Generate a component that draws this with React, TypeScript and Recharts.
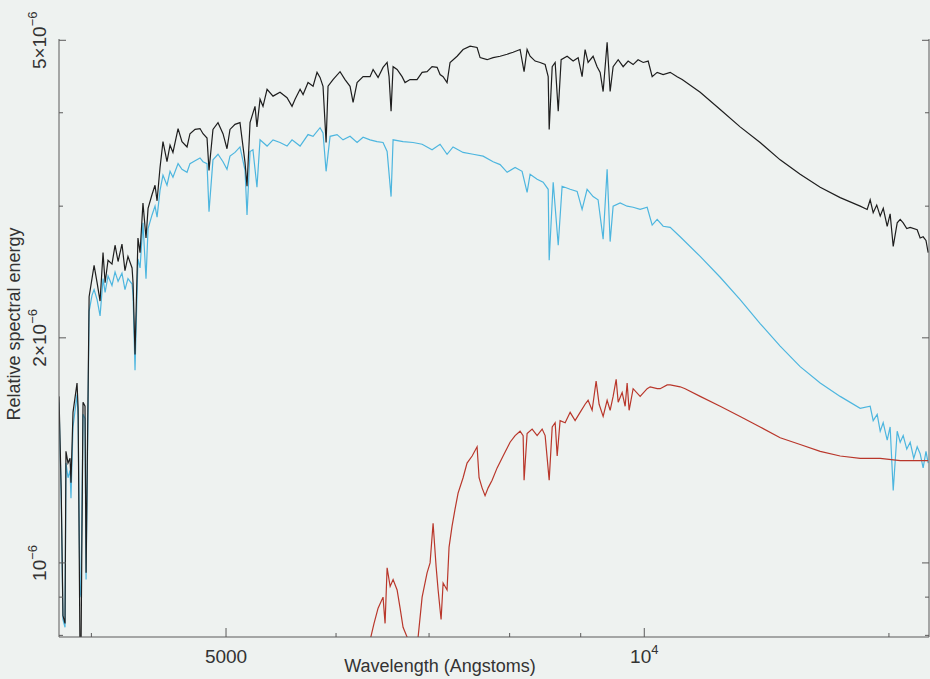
import { LineChart, Line, XAxis, YAxis } from "recharts";

// wavelength in Angstrom, relative spectral energy in units of 1e-6
const blackSpectrum: [number, number][] = [
  [3791, 1.67], [3805, 1.25], [3816, 0.85], [3829, 0.83], [3835, 1.41], [3848, 1.36], [3861, 1.38],
  [3867, 1.28], [3880, 1.59], [3906, 1.74], [3913, 1.61], [3925, 0.77], [3932, 0.77], [3945, 1.64],
  [3958, 1.62], [3965, 0.97], [3978, 1.68], [3985, 2.27], [4004, 2.4], [4018, 2.5], [4038, 2.37],
  [4058, 2.24], [4078, 2.6], [4092, 2.37], [4112, 2.54], [4139, 2.51], [4160, 2.66], [4181, 2.53],
  [4208, 2.67], [4229, 2.46], [4250, 2.57], [4279, 2.48], [4286, 2.37], [4300, 1.9], [4321, 2.72],
  [4336, 2.6], [4357, 3.03], [4379, 2.72], [4394, 2.98], [4423, 3.11], [4445, 3.2], [4460, 3.05],
  [4482, 3.38], [4504, 3.66], [4534, 3.44], [4557, 3.62], [4579, 3.54], [4618, 3.81], [4648, 3.66],
  [4687, 3.6], [4710, 3.75], [4750, 3.8], [4789, 3.81], [4813, 3.75], [4845, 3.7], [4861, 3.35],
  [4893, 3.8], [4934, 3.88], [4975, 3.75], [5008, 3.58], [5033, 3.8], [5075, 3.86], [5117, 3.88],
  [5160, 3.43], [5177, 3.19], [5203, 3.88], [5246, 4.08], [5263, 3.83], [5290, 4.17], [5316, 4.08],
  [5352, 4.3], [5405, 4.21], [5468, 4.26], [5532, 4.19], [5578, 4.08], [5606, 4.17], [5653, 4.3],
  [5681, 4.23], [5728, 4.39], [5776, 4.34], [5814, 4.53], [5843, 4.46], [5872, 4.34], [5902, 3.65],
  [5921, 4.34], [5970, 4.43], [6040, 4.54], [6090, 4.43], [6141, 4.34], [6172, 4.13], [6213, 4.39],
  [6275, 4.47], [6348, 4.47], [6380, 4.57], [6433, 4.46], [6486, 4.6], [6530, 4.67], [6551, 4.47],
  [6573, 4.02], [6595, 4.61], [6639, 4.57], [6694, 4.47], [6727, 4.39], [6783, 4.43], [6862, 4.43],
  [6920, 4.53], [6977, 4.54], [7035, 4.61], [7094, 4.6], [7129, 4.5], [7165, 4.47], [7212, 4.39],
  [7248, 4.67], [7333, 4.76], [7406, 4.86], [7493, 4.91], [7580, 4.89], [7618, 4.74], [7707, 4.71],
  [7784, 4.74], [7875, 4.76], [7967, 4.79], [8046, 4.82], [8140, 4.86], [8194, 4.54], [8235, 4.86],
  [8276, 4.76], [8345, 4.69], [8415, 4.67], [8485, 4.64], [8528, 4.47], [8542, 3.8], [8585, 4.61],
  [8627, 4.67], [8671, 4.02], [8713, 4.71], [8800, 4.76], [8888, 4.69], [8962, 4.74], [9021, 4.47],
  [9066, 4.86], [9111, 4.67], [9187, 4.76], [9248, 4.61], [9295, 4.53], [9341, 4.27], [9403, 4.97],
  [9450, 4.27], [9497, 4.61], [9577, 4.71], [9656, 4.61], [9736, 4.69], [9817, 4.64], [9898, 4.71],
  [9982, 4.67], [10065, 4.69], [10132, 4.47], [10216, 4.53], [10318, 4.5], [10439, 4.53], [10560, 4.47],
  [10648, 4.43], [10971, 4.26], [11341, 4.04], [11722, 3.83], [12117, 3.65], [12526, 3.46], [12948, 3.31],
  [13385, 3.18], [13836, 3.08], [14302, 3.0], [14469, 2.97], [14541, 3.06], [14614, 2.94], [14700, 3.01],
  [14785, 2.91], [14860, 2.98], [14957, 2.82], [15030, 2.93], [15107, 2.65], [15207, 2.85], [15283, 2.88],
  [15359, 2.85], [15450, 2.8], [15538, 2.81], [15719, 2.79], [15797, 2.72], [15875, 2.73], [15950, 2.7],
  [16008, 2.6],
];

const blueSpectrum: [number, number][] = [
  [3791, 1.64], [3805, 1.22], [3816, 0.84], [3829, 0.82], [3835, 1.36], [3848, 1.3], [3861, 1.33],
  [3867, 1.22], [3880, 1.52], [3906, 1.68], [3913, 1.56], [3925, 0.9], [3932, 0.92], [3945, 1.58],
  [3958, 1.56], [3965, 0.95], [3978, 1.62], [3985, 2.17], [4004, 2.28], [4018, 2.32], [4038, 2.25],
  [4058, 2.14], [4078, 2.4], [4092, 2.3], [4112, 2.42], [4139, 2.35], [4160, 2.45], [4181, 2.38],
  [4208, 2.44], [4229, 2.32], [4250, 2.4], [4279, 2.36], [4286, 2.28], [4300, 1.81], [4321, 2.55],
  [4336, 2.48], [4357, 2.85], [4379, 2.4], [4394, 2.8], [4423, 2.92], [4445, 3.0], [4460, 2.9],
  [4482, 3.15], [4504, 3.3], [4534, 3.2], [4557, 3.34], [4579, 3.28], [4618, 3.42], [4648, 3.36],
  [4687, 3.33], [4710, 3.42], [4750, 3.45], [4789, 3.48], [4813, 3.44], [4845, 3.42], [4861, 2.95],
  [4893, 3.46], [4934, 3.52], [4975, 3.44], [5008, 3.36], [5033, 3.5], [5075, 3.54], [5117, 3.6],
  [5160, 3.35], [5177, 2.92], [5203, 3.55], [5228, 3.57], [5263, 3.18], [5290, 3.68], [5352, 3.61],
  [5405, 3.68], [5468, 3.65], [5532, 3.61], [5578, 3.68], [5653, 3.61], [5728, 3.74], [5776, 3.72],
  [5843, 3.82], [5872, 3.76], [5902, 3.34], [5941, 3.72], [6010, 3.74], [6070, 3.68], [6141, 3.72],
  [6213, 3.65], [6275, 3.71], [6348, 3.68], [6422, 3.66], [6486, 3.65], [6530, 3.55], [6573, 3.09],
  [6595, 3.68], [6705, 3.66], [6817, 3.65], [6920, 3.63], [7035, 3.57], [7129, 3.63], [7212, 3.52],
  [7284, 3.6], [7406, 3.54], [7530, 3.52], [7656, 3.5], [7784, 3.44], [7875, 3.41], [7967, 3.33],
  [8073, 3.38], [8167, 3.34], [8235, 3.13], [8276, 3.31], [8373, 3.26], [8457, 3.23], [8528, 3.16],
  [8542, 2.54], [8599, 3.23], [8671, 2.66], [8727, 3.19], [8844, 3.16], [8947, 3.14], [9021, 2.97],
  [9096, 3.16], [9187, 3.09], [9263, 3.06], [9341, 2.71], [9403, 3.36], [9450, 2.69], [9497, 3.0],
  [9608, 3.03], [9720, 3.0], [9817, 2.99], [9932, 2.97], [10048, 2.99], [10132, 2.83], [10216, 2.88],
  [10318, 2.82], [10439, 2.81], [10613, 2.73], [10971, 2.57], [11341, 2.41], [11722, 2.25], [12117, 2.09],
  [12526, 1.95], [12948, 1.83], [13385, 1.74], [13836, 1.67], [14302, 1.61], [14541, 1.62], [14614, 1.55],
  [14711, 1.58], [14785, 1.5], [14858, 1.54], [14957, 1.46], [15030, 1.52], [15107, 1.25], [15207, 1.5],
  [15283, 1.45], [15359, 1.48], [15450, 1.42], [15538, 1.45], [15630, 1.38], [15719, 1.43], [15797, 1.4],
  [15875, 1.34], [15950, 1.41], [16008, 1.36],
];

const redSpectrum: [number, number][] = [
  [6340, 0.78], [6390, 0.83], [6433, 0.87], [6486, 0.9], [6508, 0.83], [6530, 0.985], [6563, 0.93],
  [6595, 0.95], [6639, 0.92], [6672, 0.87], [6705, 0.82], [6761, 0.79], [6862, 0.77], [6920, 0.9],
  [6977, 0.97], [7012, 1.0], [7047, 1.13], [7082, 0.99], [7106, 0.92], [7141, 0.84], [7165, 0.94],
  [7212, 0.92], [7236, 1.05], [7272, 1.12], [7308, 1.18], [7345, 1.24], [7406, 1.3], [7455, 1.36],
  [7518, 1.39], [7580, 1.43], [7605, 1.3], [7643, 1.26], [7681, 1.23], [7720, 1.26], [7771, 1.29],
  [7836, 1.34], [7914, 1.39], [8006, 1.45], [8073, 1.48], [8140, 1.5], [8181, 1.48], [8194, 1.29],
  [8235, 1.49], [8304, 1.51], [8373, 1.48], [8443, 1.51], [8485, 1.48], [8542, 1.29], [8585, 1.52],
  [8627, 1.54], [8656, 1.39], [8698, 1.55], [8771, 1.54], [8844, 1.59], [8917, 1.55], [8991, 1.59],
  [9066, 1.63], [9111, 1.65], [9172, 1.6], [9233, 1.75], [9279, 1.63], [9341, 1.57], [9403, 1.65],
  [9450, 1.6], [9497, 1.67], [9545, 1.76], [9577, 1.64], [9640, 1.69], [9688, 1.62], [9720, 1.74],
  [9752, 1.6], [9817, 1.71], [9932, 1.67], [10048, 1.71], [10098, 1.72], [10216, 1.71], [10267, 1.71],
  [10387, 1.73], [10439, 1.73], [10613, 1.72], [10701, 1.71], [10971, 1.67], [11341, 1.62], [11722, 1.57],
  [12117, 1.52], [12526, 1.47], [12948, 1.44], [13385, 1.41], [13836, 1.39], [14302, 1.38], [14785, 1.38],
  [15283, 1.37], [16008, 1.37],
];

const xTicks = [4000, 5000, 6000, 7000, 8000, 9000, 10000, 15000];
const xTickLabels: Record<number, [string, string]> = { 5000: ["5000", ""], 10000: ["10", "4"] };
const yTicks = [0.8, 0.9, 1, 2, 3, 4, 5];
const yTickLabels: Record<number, [string, string]> = {
  1: ["10", "\u22126"],
  2: ["2\u00d710", "\u22126"],
  5: ["5\u00d710", "\u22126"],
};

const xDomain = [3791, 16030];
const yDomain = [0.796, 5.02];

const bg = "#eef2f0";
const axisColor = "#5a5a5a";
const textColor = "#333";
const font = "'Liberation Sans', Arial, sans-serif";

const toRows = (s: [number, number][]) => s.map(([w, f]) => ({ w, f }));

const BottomTick = ({ x, y, payload }: any) => {
  const v = payload.value;
  const lab = xTickLabels[v];
  return (
    <g>
      <line x1={x} x2={x} y1={y} y2={y - (lab ? 9 : 4)} stroke={axisColor} />
      {lab && (
        <text x={x} y={y + 26} textAnchor="middle" fontSize={19} fill={textColor} fontFamily={font}>
          {lab[0]}
          {lab[1] && (
            <tspan dy={-9} fontSize={13}>
              {lab[1]}
            </tspan>
          )}
        </text>
      )}
    </g>
  );
};

const TopTick = ({ x, y, payload }: any) => {
  const major = !!xTickLabels[payload.value];
  return <line x1={x} x2={x} y1={y} y2={y + (major ? 9 : 4)} stroke={axisColor} />;
};

const LeftTick = ({ x, y, payload }: any) => {
  const v = payload.value;
  const lab = yTickLabels[v];
  const bx = x - 13;
  return (
    <g>
      <line x1={x} x2={x + (lab ? 7 : 4)} y1={y} y2={y} stroke={axisColor} />
      {lab && (
        <text
          x={bx}
          y={y}
          transform={`rotate(-90 ${bx} ${y})`}
          textAnchor="middle"
          fontSize={19}
          fill={textColor}
          fontFamily={font}
        >
          {lab[0]}
          <tspan dy={-9} fontSize={13}>
            {lab[1]}
          </tspan>
        </text>
      )}
    </g>
  );
};

const RightTick = ({ x, y, payload }: any) => {
  const major = !!yTickLabels[payload.value];
  return <line x1={x} x2={x - (major ? 7 : 4)} y1={y} y2={y} stroke={axisColor} />;
};

const XTitle = () => (
  <text x={440} y={672} textAnchor="middle" fontSize={18} fill={textColor} fontFamily={font}>
    Wavelength (Angstoms)
  </text>
);

const YTitle = () => (
  <text
    x={20}
    y={324}
    transform="rotate(-90 20 324)"
    textAnchor="middle"
    fontSize={18}
    fill={textColor}
    fontFamily={font}
  >
    Relative spectral energy
  </text>
);

export default function App() {
  return (
    <div style={{ position: "absolute", left: 0, top: 0, width: 930, height: 679, background: bg }}>
      <LineChart width={930} height={679} margin={{ top: 39, right: 0, bottom: 0, left: 0 }}>
        <XAxis
          xAxisId="b"
          type="number"
          dataKey="w"
          scale="log"
          domain={xDomain}
          allowDataOverflow
          ticks={xTicks}
          interval={0}
          tick={<BottomTick />}
          tickLine={false}
          tickSize={0}
          tickMargin={0}
          height={42}
          stroke={axisColor}
          label={XTitle}
        />
        <XAxis
          xAxisId="t"
          orientation="top"
          type="number"
          dataKey="w"
          scale="log"
          domain={xDomain}
          allowDataOverflow
          ticks={xTicks}
          interval={0}
          tick={<TopTick />}
          tickLine={false}
          tickSize={0}
          tickMargin={0}
          height={0}
          stroke={axisColor}
        />
        <YAxis
          yAxisId="l"
          type="number"
          dataKey="f"
          scale="log"
          domain={yDomain}
          allowDataOverflow
          ticks={yTicks}
          interval={0}
          tick={<LeftTick />}
          tickLine={false}
          tickSize={0}
          tickMargin={0}
          width={59}
          stroke={axisColor}
          label={YTitle}
        />
        <YAxis
          yAxisId="r"
          orientation="right"
          type="number"
          dataKey="f"
          scale="log"
          domain={yDomain}
          allowDataOverflow
          ticks={yTicks}
          interval={0}
          tick={<RightTick />}
          tickLine={false}
          tickSize={0}
          tickMargin={0}
          width={1}
          stroke={axisColor}
        />
        <Line
          xAxisId="b"
          yAxisId="l"
          data={toRows(blueSpectrum)}
          dataKey="f"
          type="linear"
          stroke="#4db6df"
          strokeWidth={1.2}
          dot={false}
          isAnimationActive={false}
        />
        <Line
          xAxisId="b"
          yAxisId="l"
          data={toRows(redSpectrum)}
          dataKey="f"
          type="linear"
          stroke="#b9372b"
          strokeWidth={1.2}
          dot={false}
          isAnimationActive={false}
        />
        <Line
          xAxisId="b"
          yAxisId="l"
          data={toRows(blackSpectrum)}
          dataKey="f"
          type="linear"
          stroke="#1e1e1e"
          strokeWidth={1.2}
          dot={false}
          isAnimationActive={false}
        />
      </LineChart>
    </div>
  );
}
